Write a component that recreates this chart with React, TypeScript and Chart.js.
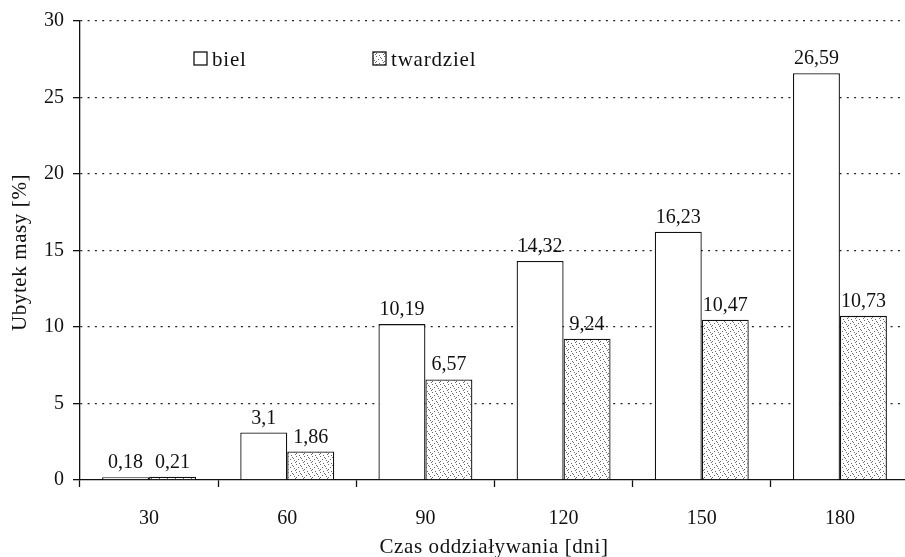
import React, { useEffect, useRef } from "react";
import { Chart, registerables } from "chart.js";

Chart.register(...registerables);

const categories = ["30", "60", "90", "120", "150", "180"];
const bielValues = [0.18, 3.1, 10.19, 14.32, 16.23, 26.59];
const twardzielValues = [0.21, 1.86, 6.57, 9.24, 10.47, 10.73];
const seriesNames = ["biel", "twardziel"];
const xTitle = "Czas oddziaływania [dni]";
const yTitle = "Ubytek masy [%]";

const FONT = "'Liberation Serif', 'Times New Roman', serif";
const INK = "#111";

function makeStipple(): CanvasPattern | string {
  const c = document.createElement("canvas");
  c.width = 8;
  c.height = 8;
  const ctx = c.getContext("2d");
  if (!ctx) return "#ddd";
  ctx.fillStyle = "#ffffff";
  ctx.fillRect(0, 0, 8, 8);
  ctx.fillStyle = "#6a6a6a";
  const dots = [
    [0, 0], [4, 1], [2, 3], [6, 4], [0, 5], [3, 7], [7, 6], [5, 2],
  ];
  for (const [x, y] of dots) ctx.fillRect(x, y, 1, 1);
  const p = ctx.createPattern(c, "repeat");
  return p || "#ddd";
}

const fmt = (v: number) => String(v).replace(".", ",");

export default function App() {
  const ref = useRef<HTMLCanvasElement | null>(null);

  useEffect(() => {
    if (!ref.current) return;
    const stipple = makeStipple();

    // value printed above every bar
    const valueLabels = {
      id: "valueLabels",
      afterDatasetsDraw(chart: any) {
        const ctx = chart.ctx;
        ctx.save();
        ctx.font = `20px ${FONT}`;
        ctx.fillStyle = INK;
        ctx.textAlign = "center";
        ctx.textBaseline = "alphabetic";
        chart.data.datasets.forEach((ds: any, di: number) => {
          const meta = chart.getDatasetMeta(di);
          meta.data.forEach((bar: any, i: number) => {
            ctx.fillText(fmt(ds.data[i]), bar.x, bar.y - 9);
          });
        });
        ctx.restore();
      },
    };

    // legend placed inside the plot area, plus the axis titles
    const decorations = {
      id: "decorations",
      afterDraw(chart: any) {
        const ctx = chart.ctx;
        const area = chart.chartArea;
        ctx.save();
        (ctx as any).letterSpacing = "0.8px";
        ctx.font = `21px ${FONT}`;
        ctx.textBaseline = "alphabetic";
        ctx.textAlign = "left";
        const items = [
          { x: 194, fill: "#ffffff" as any, label: seriesNames[0] },
          { x: 373, fill: stipple as any, label: seriesNames[1] },
        ];
        const top = 52;
        for (const it of items) {
          ctx.fillStyle = it.fill;
          ctx.fillRect(it.x, top, 13, 13);
          ctx.strokeStyle = INK;
          ctx.lineWidth = 1.3;
          ctx.strokeRect(it.x, top, 13, 13);
          ctx.fillStyle = INK;
          ctx.fillText(it.label, it.x + 18, top + 13.5);
        }

        (ctx as any).letterSpacing = "0.6px";
        ctx.font = `21px ${FONT}`;
        ctx.textAlign = "center";
        ctx.textBaseline = "alphabetic";
        ctx.fillText(xTitle, 494, 553);

        ctx.translate(26, (area.top + area.bottom) / 2 + 2);
        ctx.rotate(-Math.PI / 2);
        ctx.fillText(yTitle, 0, 0);
        ctx.restore();
      },
    };

    const chart = new Chart(ref.current, {
      type: "bar",
      data: {
        labels: categories,
        datasets: [
          {
            label: seriesNames[0],
            data: bielValues,
            backgroundColor: "#ffffff",
            borderColor: INK,
            borderWidth: 1.3,
            categoryPercentage: 0.68,
            barPercentage: 1,
          },
          {
            label: seriesNames[1],
            data: twardzielValues,
            backgroundColor: stipple as any,
            borderColor: INK,
            borderWidth: 1.3,
            categoryPercentage: 0.68,
            barPercentage: 1,
          },
        ],
      },
      options: {
        animation: false,
        responsive: false,
        maintainAspectRatio: false,
        layout: { padding: { top: 19, right: 1, left: 0, bottom: 0 } },
        plugins: {
          legend: { display: false },
          tooltip: { enabled: false },
        },
        scales: {
          x: {
            grid: {
              offset: true,
              drawOnChartArea: false,
              color: INK,
              tickColor: INK,
              tickLength: 7,
              tickWidth: 1.3,
            },
            border: { color: INK, width: 1.3 },
            ticks: {
              color: INK,
              font: { family: FONT, size: 20 },
              padding: 20,
            },
            afterFit(scale: any) {
              scale.height = 77;
            },
          },
          y: {
            min: 0,
            max: 30,
            ticks: {
              stepSize: 5,
              color: INK,
              font: { family: FONT, size: 20 },
              padding: 9,
            },
            grid: {
              color: (c: any) => (c.tick && c.tick.value === 0 ? "rgba(0,0,0,0)" : "#222"),
              lineWidth: 1.3,
              tickColor: INK,
              tickLength: 7,
              tickBorderDash: [],
              tickWidth: 1.3,
            },
            border: { color: INK, width: 1.3, dash: [2, 5.3] },
            afterFit(scale: any) {
              scale.width = 80;
            },
          },
        },
      },
      plugins: [valueLabels, decorations],
    });

    return () => chart.destroy();
  }, []);

  return (
    <div
      style={{
        position: "fixed",
        left: 0,
        top: 0,
        width: 905,
        height: 557,
        overflow: "hidden",
        background: "#fff",
      }}
    >
      <canvas ref={ref} width={910} height={557} style={{ width: 910, height: 557, display: "block" }} />
    </div>
  );
}
